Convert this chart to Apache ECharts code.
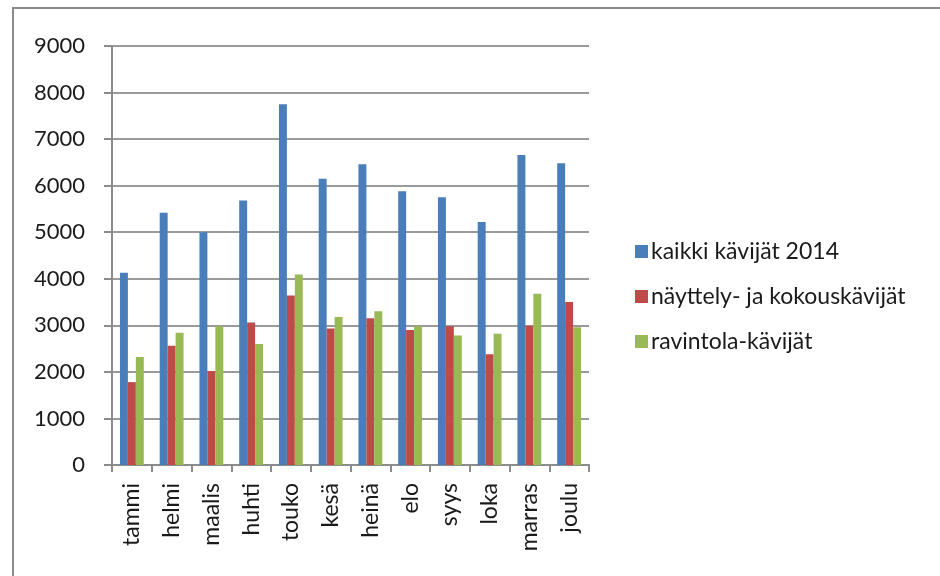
<!DOCTYPE html>
<html><head><meta charset="utf-8">
<script src="https://cdn.jsdelivr.net/npm/echarts@6/dist/echarts.min.js"></script>
<style>html,body{margin:0;padding:0;background:#fff}#c{width:940px;height:576px}</style>
</head><body><div id="c"></div>
<script>
const months = ['tammi','helmi','maalis','huhti','touko','kesä','heinä','elo','syys','loka','marras','joulu'];
const kaikki = [4130,5420,5000,5680,7750,6150,6460,5880,5750,5220,6660,6480];
const nayttely = [1780,2560,2020,3060,3640,2930,3150,2900,2980,2380,2990,3500];
const ravintola = [2320,2840,2980,2600,4090,3180,3300,2980,2780,2820,3680,2960];
const seriesNames = ['kaikki kävijät 2014','näyttely- ja kokouskävijät','ravintola-kävijät'];
const yTicks = {min:0,max:9000,interval:1000};

const chart = echarts.init(document.getElementById('c'));
const font = 'Lato, "Open Sans", sans-serif';
chart.setOption({
  animation:false,
  backgroundColor:'#fff',
  color:['#4a7ebb','#be4b48','#98b954'],
  graphic:[{type:'rect',shape:{x:13,y:8,width:1200,height:1000},style:{fill:'none',stroke:'#8a8a8a',lineWidth:2},silent:true}],
  grid:{left:112,top:46,right:351,bottom:111,containLabel:false},
  legend:{
    orient:'vertical',left:630,top:235,itemWidth:13,itemHeight:13,itemGap:22,
    icon:'rect',
    textStyle:{fontFamily:font,fontSize:23,color:'#1a1a1a',padding:[0,0,0,-2]},
    data:seriesNames
  },
  xAxis:{
    type:'category',data:months,
    axisLine:{lineStyle:{color:'#8c8c8c',width:2}},
    axisTick:{show:true,length:7,lineStyle:{color:'#8c8c8c',width:2}},
    axisLabel:{rotate:90,margin:18,fontFamily:font,fontSize:23,color:'#1a1a1a',interval:0}
  },
  yAxis:{
    type:'value',min:yTicks.min,max:yTicks.max,interval:yTicks.interval,
    axisLine:{show:true,lineStyle:{color:'#8c8c8c',width:2}},
    axisTick:{show:true,length:8,lineStyle:{color:'#8c8c8c',width:2}},
    splitLine:{lineStyle:{color:'#9a9a9a',width:2}},
    axisLabel:{margin:27,fontFamily:font,fontSize:22,color:'#1a1a1a',formatter:function(v){return String(v);}}
  },
  series:[
    {name:seriesNames[0],type:'bar',data:kaikki,barGap:'0%',barCategoryGap:'40%'},
    {name:seriesNames[1],type:'bar',data:nayttely,barGap:'0%',barCategoryGap:'40%'},
    {name:seriesNames[2],type:'bar',data:ravintola,barGap:'0%',barCategoryGap:'40%'}
  ]
});
</script></body></html>
